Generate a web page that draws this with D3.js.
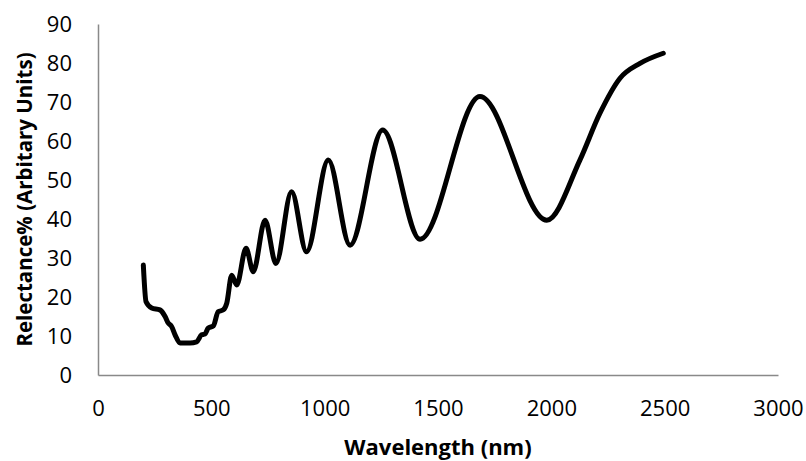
<!DOCTYPE html>
<html>
<head>
<meta charset="utf-8">
<script src="https://cdn.jsdelivr.net/npm/d3@7"></script>
<style>
  body { margin: 0; background: #fff; }
  svg { font-family: 'Open Sans', 'Liberation Sans', sans-serif; }
</style>
</head>
<body>
<div class="canvas"></div>
<script>
// values
const wavelength = [200, 212, 237, 273, 296, 309, 325, 340, 362, 406, 435, 457, 472, 486, 509, 530, 553, 568,
  590, 612, 653, 685, 737, 785, 854, 920, 1016, 1112, 1256, 1421, 1685, 1980, 2126, 2215, 2303, 2391, 2494]
const reflectance = [28.2, 18.8, 17.2, 16.7, 15, 13.4, 12.4, 10.3, 8.2, 8.2, 8.5, 10.3, 10.5, 12, 12.6, 16.2, 16.7, 18.4,
  25.6, 23.1, 32.5, 26.5, 39.7, 28.6, 47, 31.6, 55.1, 33.3, 62.8, 34.8, 71.4, 39.7, 55.1, 67.2, 76.1, 79.9, 82.5]
const xTicks = [0, 500, 1000, 1500, 2000, 2500, 3000]
const yTicks = [0, 10, 20, 30, 40, 50, 60, 70, 80, 90]

const data = wavelength.map((w, i) => ({ w, r: reflectance[i] }))

const width = 806
const height = 461
const margin = { top: 24, right: 28, bottom: 86, left: 98 }
const graphWidth = width - margin.left - margin.right
const graphHeight = height - margin.top - margin.bottom

const svg = d3.select('.canvas')
  .append('svg')
  .attr('width', width)
  .attr('height', height)

const graph = svg.append('g')
  .attr('transform', `translate(${margin.left}, ${margin.top})`)

// scales
const x = d3.scaleLinear().domain([0, 3000]).range([0, graphWidth])
const y = d3.scaleLinear().domain([0, 90]).range([graphHeight, 0])

// axes (no tick marks, plain numbers)
const xAxis = d3.axisBottom(x).tickValues(xTicks).tickFormat(d3.format('d')).tickSize(0).tickPadding(25)
const yAxis = d3.axisLeft(y).tickValues(yTicks).tickFormat(d3.format('d')).tickSize(0).tickPadding(26)

const xAxisGroup = graph.append('g')
  .attr('transform', `translate(0, ${graphHeight})`)
  .call(xAxis)
const yAxisGroup = graph.append('g').call(yAxis)

;[xAxisGroup, yAxisGroup].forEach(g => {
  g.select('.domain').attr('stroke', '#898989').attr('stroke-width', 1.5)
  g.selectAll('text')
    .attr('fill', '#000')
    .style('font-size', '22px')
    .style('font-family', "'Open Sans', 'Liberation Sans', sans-serif")
})
yAxisGroup.selectAll('text').attr('dy', '0.35em')

// the spectrum
const line = d3.line()
  .x(d => x(d.w))
  .y(d => y(d.r))
  .curve(d3.curveMonotoneX)

graph.append('path')
  .datum(data)
  .attr('fill', 'none')
  .attr('stroke', '#000')
  .attr('stroke-width', 5)
  .attr('stroke-linejoin', 'round')
  .attr('stroke-linecap', 'round')
  .attr('d', line)

// axis titles
svg.append('text')
  .attr('x', margin.left + graphWidth / 2)
  .attr('y', 455)
  .attr('text-anchor', 'middle')
  .style('font-size', '22px')
  .style('font-weight', 'bold')
  .text('Wavelength (nm)')

svg.append('text')
  .attr('transform', `translate(32, ${margin.top + graphHeight / 2}) rotate(-90)`)
  .attr('text-anchor', 'middle')
  .style('font-size', '20.5px')
  .style('font-weight', 'bold')
  .text('Relectance% (Arbitary Units)')
</script>
</body>
</html>
